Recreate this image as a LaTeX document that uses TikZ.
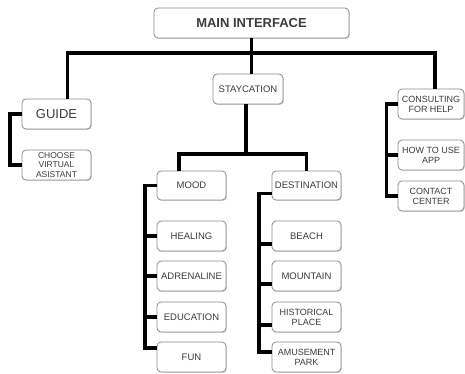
\documentclass[tikz,border=0pt]{standalone}
\usepackage{fontspec}
\setmainfont{Liberation Sans}
\usepackage{tikz}
\usetikzlibrary{shadows}
\usepackage{xcolor}
\definecolor{boxline}{HTML}{8C8C8C}
\definecolor{boxtext}{HTML}{3C3C3C}

\begin{document}
\begin{tikzpicture}[x=1pt,y=-1pt,
  box/.style={draw=boxline,line width=0.8pt,rounded corners=4pt,fill=white,
    drop shadow={shadow xshift=0.9pt,shadow yshift=-0.9pt,opacity=0.35},
    minimum width=69pt,minimum height=30pt,inner sep=1pt,align=center,
    text=boxtext,font=\fontsize{9.5}{10}\selectfont},
  twoline/.style={box,font=\fontsize{9}{10}\selectfont},
  link/.style={line width=3.6pt,black}]
\useasboundingbox (0,0) rectangle (465,374);
\node (main) at (251.5,23) [box,minimum width=195pt,font=\fontsize{13}{15}\selectfont\bfseries] {MAIN INTERFACE};
\node (guide) at (56.5,114) [box,font=\fontsize{13}{15}\selectfont] {GUIDE};
\node (choose) at (56.5,165) [twoline,font=\fontsize{8.5}{9.7}\selectfont] {CHOOSE\\VIRTUAL\\ASISTANT};
\node (stay) at (248,89) [box,minimum width=70pt] {STAYCATION};
\node (consult) at (431,104) [twoline,minimum width=66pt] {CONSULTING\\FOR HELP};
\node (howto) at (431,155) [twoline,minimum width=66pt] {HOW TO USE\\APP};
\node (contact) at (431,196) [twoline,minimum width=66pt] {CONTACT\\CENTER};
\node (mood) at (191.5,185.5) [box,minimum height=29pt] {MOOD};
\node (healing) at (191.5,236) [box] {HEALING};
\node (adren) at (191.5,276) [box] {ADRENALINE};
\node (educ) at (191.5,317) [box] {EDUCATION};
\node (fun) at (191.5,357) [box] {FUN};
\node (dest) at (306.5,185.5) [box,minimum height=29pt] {DESTINATION};
\node (beach) at (306.5,236) [box] {BEACH};
\node (mount) at (306.5,276) [box] {MOUNTAIN};
\node (hist) at (306.5,317) [twoline] {HISTORICAL\\PLACE};
\node (amuse) at (306.5,357) [twoline] {AMUSEMENT\\PARK};
\coordinate (topbus) at (252,53);
\coordinate (midbus) at (246,154);
\coordinate (guiderail) at (10,0);
\coordinate (moodrail) at (145,0);
\coordinate (destrail) at (259,0);
\coordinate (helprail) at (386.5,0);
\draw [link] ([xshift=11pt]guide.north) |- (topbus) -| ([xshift=4pt]consult.north);
\draw [link] (main.south) -- (main.south |- stay.north);
\draw [link] (stay.south -| midbus) -- (midbus);
\draw [link] ([xshift=-12.5pt]mood.north) |- (midbus) -| (dest.north);
\draw [link] (guide.west) -- (guide.west -| guiderail) -- (choose.west -| guiderail) -- (choose.west);
\draw [link] (consult.west) -- (consult.west -| helprail) -- (contact.west -| helprail) -- (contact.west);
\draw [link] (howto.west) -- (howto.west -| helprail);
\draw [link] (mood.west) -- (mood.west -| moodrail) -- ([yshift=9pt]fun.west -| moodrail) -- ([yshift=9pt]fun.west);
\foreach \n in {healing,adren,educ}
  \draw [link] (\n.west) -- (\n.west -| moodrail);
\draw [link] ([yshift=-8pt]dest.west) -- ([yshift=-8pt]dest.west -| destrail) -- ([yshift=5pt]amuse.west -| destrail) -- ([yshift=5pt]amuse.west);
\foreach \n in {beach,mount,hist}
  \draw [link] ([yshift=-8pt]\n.west) -- ([yshift=-8pt]\n.west -| destrail);
\end{tikzpicture}
\end{document}
